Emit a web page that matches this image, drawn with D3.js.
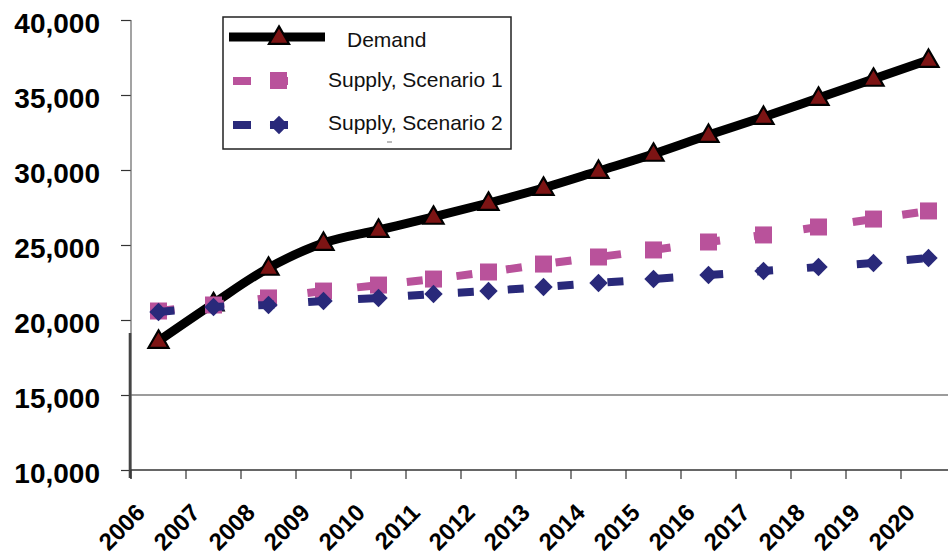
<!DOCTYPE html>
<html>
<head>
<meta charset="utf-8">
<script src="https://cdn.jsdelivr.net/npm/d3@7"></script>
<style>
  body { margin: 0; background: #fff; }
  svg { display: block; }
</style>
</head>
<body>
<svg id="chart" width="948" height="557"></svg>
<script>
// Years on the category axis
const years = ["2006", "2007", "2008", "2009", "2010", "2011", "2012", "2013",
               "2014", "2015", "2016", "2017", "2018", "2019", "2020"];

// Series values
const demand  = [18600, 21100, 23470, 25130, 26000, 26870, 27800, 28800,
                 29930, 31070, 32330, 33530, 34800, 36070, 37330];
const supply1 = [20600, 21000, 21470, 21930, 22330, 22730, 23200, 23730,
                 24200, 24670, 25200, 25670, 26200, 26730, 27270];
const supply2 = [20530, 20870, 21000, 21270, 21470, 21730, 21930, 22200,
                 22470, 22730, 23000, 23270, 23530, 23800, 24130];

// Value axis ticks
const yTicks = [10000, 15000, 20000, 25000, 30000, 35000, 40000];
const gridValues = [15000];

const seriesNames = ["Demand", "Supply, Scenario 1", "Supply, Scenario 2"];

const FONT = "'Liberation Sans', Arial, sans-serif";
const PINK = "#b9529b";
const NAVY = "#29297a";
const RED = "#7d1414";

const svg = d3.select("#chart").style("font-family", FONT);

const plotLeft = 131, band = 55, plotTop = 20, plotBottom = 470;
const x = d3.scaleBand().domain(years).range([plotLeft, plotLeft + band * years.length]).padding(0);
const y = d3.scaleLinear().domain([10000, 40000]).range([plotBottom, plotTop]);
const cx = d => x(d) + x.bandwidth() / 2;

// Horizontal gridline
svg.selectAll("line.grid").data(gridValues).join("line")
  .attr("class", "grid")
  .attr("x1", plotLeft).attr("x2", 948)
  .attr("y1", d => y(d)).attr("y2", d => y(d))
  .attr("stroke", "#3a3a3a").attr("stroke-width", 1.2);

// Value axis
const yAxis = d3.axisLeft(y).tickValues(yTicks).tickFormat(d3.format(",")).tickSize(10).tickPadding(21);
const gy = svg.append("g").attr("transform", `translate(${plotLeft},0)`).call(yAxis);
gy.select(".domain").remove();
gy.selectAll(".tick line").attr("stroke", "#333").attr("stroke-width", 1.2);
gy.selectAll(".tick text")
  .attr("font-family", FONT).attr("font-size", 28).attr("font-weight", "bold")
  .attr("fill", "#000").attr("dy", 12);

// Vertical axis line
svg.append("line")
  .attr("x1", plotLeft).attr("x2", plotLeft).attr("y1", plotTop).attr("y2", plotBottom + 9)
  .attr("stroke", "#666").attr("stroke-width", 1.2);
svg.append("line")
  .attr("x1", plotLeft - 1).attr("x2", plotLeft - 1).attr("y1", 333).attr("y2", plotBottom + 8)
  .attr("stroke", "#444").attr("stroke-width", 2.6);

// Category axis line and ticks at band boundaries
svg.append("line")
  .attr("x1", plotLeft).attr("x2", 948).attr("y1", plotBottom).attr("y2", plotBottom)
  .attr("stroke", "#333").attr("stroke-width", 1.6);
svg.selectAll("line.xtick").data(years).join("line")
  .attr("class", "xtick")
  .attr("x1", d => x(d)).attr("x2", d => x(d))
  .attr("y1", plotBottom).attr("y2", plotBottom + 9)
  .attr("stroke", "#333").attr("stroke-width", 1.2);

// Category labels, rotated
svg.selectAll("text.xlab").data(years).join("text")
  .attr("class", "xlab")
  .attr("transform", d => `translate(${cx(d) - 12},${plotBottom + 44}) rotate(-45)`)
  .attr("text-anchor", "end")
  .attr("font-size", 24).attr("font-weight", "bold").attr("fill", "#000")
  .text(d => d);

// Lines
const line = d3.line().x((d, i) => cx(years[i])).y(d => y(d));
const smooth = d3.line().x((d, i) => cx(years[i])).y(d => y(d)).curve(d3.curveCatmullRom.alpha(0.5));

// Demand
svg.append("path").attr("d", smooth(demand))
  .attr("fill", "none").attr("stroke", "#000").attr("stroke-width", 9)
  .attr("stroke-linejoin", "round");
const tri = d3.symbol().type(d3.symbolTriangle).size(175);
svg.selectAll("path.tri").data(demand).join("path")
  .attr("class", "tri")
  .attr("d", tri)
  .attr("transform", (d, i) => `translate(${cx(years[i])},${y(d) + 1})`)
  .attr("fill", RED).attr("stroke", "#000").attr("stroke-width", 2.2);

// Supply, Scenario 1
svg.append("path").attr("d", line(supply1))
  .attr("fill", "none").attr("stroke", PINK).attr("stroke-width", 8)
  .attr("stroke-dasharray", "16,34");
svg.selectAll("rect.sq").data(supply1).join("rect")
  .attr("class", "sq")
  .attr("x", (d, i) => cx(years[i]) - 8.5).attr("y", d => y(d) - 8.5)
  .attr("width", 17).attr("height", 17)
  .attr("fill", PINK);

// Supply, Scenario 2
svg.append("path").attr("d", line(supply2))
  .attr("fill", "none").attr("stroke", NAVY).attr("stroke-width", 8)
  .attr("stroke-dasharray", "16,34");
const dia = d3.symbol().type(d3.symbolDiamond2).size(215);
svg.selectAll("path.dia").data(supply2).join("path")
  .attr("class", "dia")
  .attr("d", dia)
  .attr("transform", (d, i) => `translate(${cx(years[i])},${y(d)})`)
  .attr("fill", NAVY);

// Legend
const lg = svg.append("g").attr("transform", "translate(223,17)");
lg.append("rect").attr("x", 0).attr("y", 0).attr("width", 288).attr("height", 132)
  .attr("fill", "#fff").attr("stroke", "#222").attr("stroke-width", 1.5);

// Demand entry
lg.append("line").attr("x1", 6).attr("x2", 102).attr("y1", 20).attr("y2", 20)
  .attr("stroke", "#000").attr("stroke-width", 9);
lg.append("path").attr("d", tri).attr("transform", "translate(56,21)")
  .attr("fill", RED).attr("stroke", "#000").attr("stroke-width", 2.2);

// Scenario 1 entry
lg.append("line").attr("x1", 10).attr("x2", 78).attr("y1", 64).attr("y2", 64)
  .attr("stroke", PINK).attr("stroke-width", 8).attr("stroke-dasharray", "18,19");
lg.append("rect").attr("x", 47).attr("y", 55).attr("width", 17).attr("height", 17).attr("fill", PINK);

// Scenario 2 entry
lg.append("line").attr("x1", 10).attr("x2", 78).attr("y1", 108).attr("y2", 108)
  .attr("stroke", NAVY).attr("stroke-width", 8).attr("stroke-dasharray", "18,19");
lg.append("path").attr("d", dia).attr("transform", "translate(56,108)").attr("fill", NAVY);

const labelPos = [[124, 30], [105, 70], [105, 113]];
lg.selectAll("text.leg").data(seriesNames).join("text")
  .attr("class", "leg")
  .attr("x", (d, i) => labelPos[i][0]).attr("y", (d, i) => labelPos[i][1])
  .attr("font-size", 21).attr("fill", "#111")
  .text(d => d);
lg.append("line").attr("x1", 164).attr("x2", 169).attr("y1", 125).attr("y2", 125)
  .attr("stroke", "#777").attr("stroke-width", 1);
</script>
</body>
</html>
